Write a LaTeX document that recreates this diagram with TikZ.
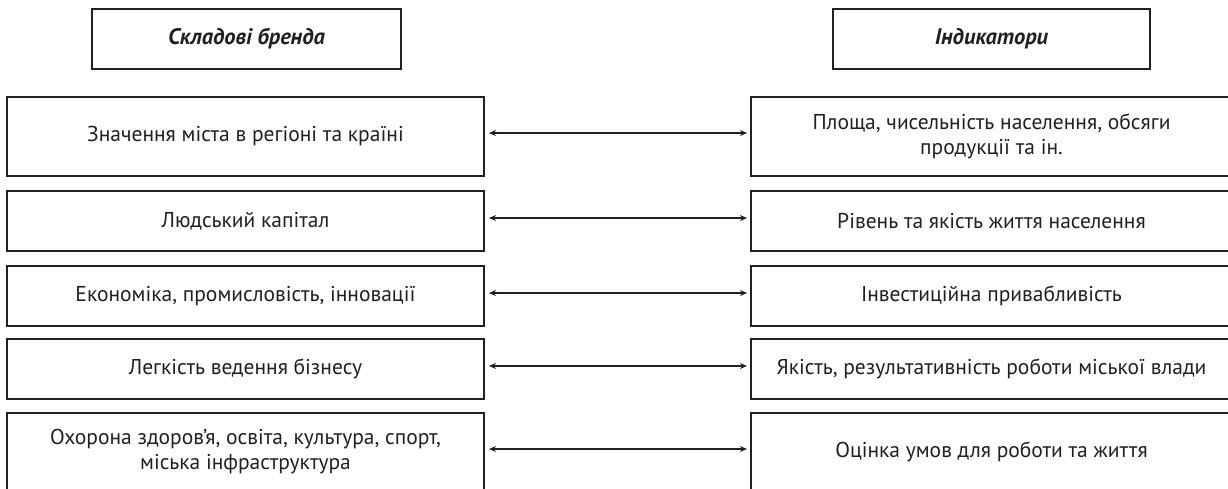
\documentclass[tikz,border=0pt]{standalone}
\usepackage{fontspec}
\setmainfont{PT Sans}
\usetikzlibrary{arrows.meta}
\definecolor{ink}{HTML}{231F20}
\begin{document}
\begin{tikzpicture}[x=1pt,y=-1pt,
  box/.style={draw=ink, line width=2pt, align=center, inner sep=0pt, text=ink,
    font=\fontsize{21.5}{25}\selectfont},
  head/.style={box, minimum height=60pt, font=\fontsize{22.5}{25}\selectfont\bfseries\itshape},
  lbox/.style={box, minimum width=477pt},
  rbox/.style={box, minimum width=481pt},
  link/.style={draw=ink, line width=1.3pt, {Stealth[length=7pt,width=6pt]}-{Stealth[length=7pt,width=6pt]}, shorten <=4pt, shorten >=3pt}]
\useasboundingbox (0,0) rectangle (1228,488);
\node[head, minimum width=309pt] (h1) at (246.5,39) {Складові бренда};
\node[head, minimum width=317pt] (h2) at (991.5,39) {Індикатори};

\node[lbox, minimum height=79pt] (l1) at (245.5,136) {Значення міста в регіоні та країні};
\node[lbox, minimum height=60pt] (l2) at (245.5,221) {Людський капітал};
\node[lbox, minimum height=60pt] (l3) at (245.5,296) {Економіка, промисловість, інновації};
\node[lbox, minimum height=60pt] (l4) at (245.5,369) {Легкість ведення бізнесу};
\node[lbox, minimum height=78pt] (l5) at (245.5,452) {Охорона здоров’я, освіта, культура, спорт,\\міська інфраструктура};

\node[rbox, minimum height=79pt] (r1) at (991.5,136) {Площа, чисельність населення, обсяги\\продукції та ін.};
\node[rbox, minimum height=60pt] (r2) at (991.5,221) {Рівень та якість життя населення};
\node[rbox, minimum height=60pt] (r3) at (991.5,296) {Інвестиційна привабливість};
\node[rbox, minimum height=60pt] (r4) at (991.5,369) {Якість, результативність роботи міської влади};
\node[rbox, minimum height=78pt] (r5) at (991.5,452) {Оцінка умов для роботи та життя};

\foreach \i in {1,...,5}
  \draw[link] ([yshift=3pt]l\i.east) -- ([yshift=3pt]r\i.west);
\end{tikzpicture}
\end{document}
